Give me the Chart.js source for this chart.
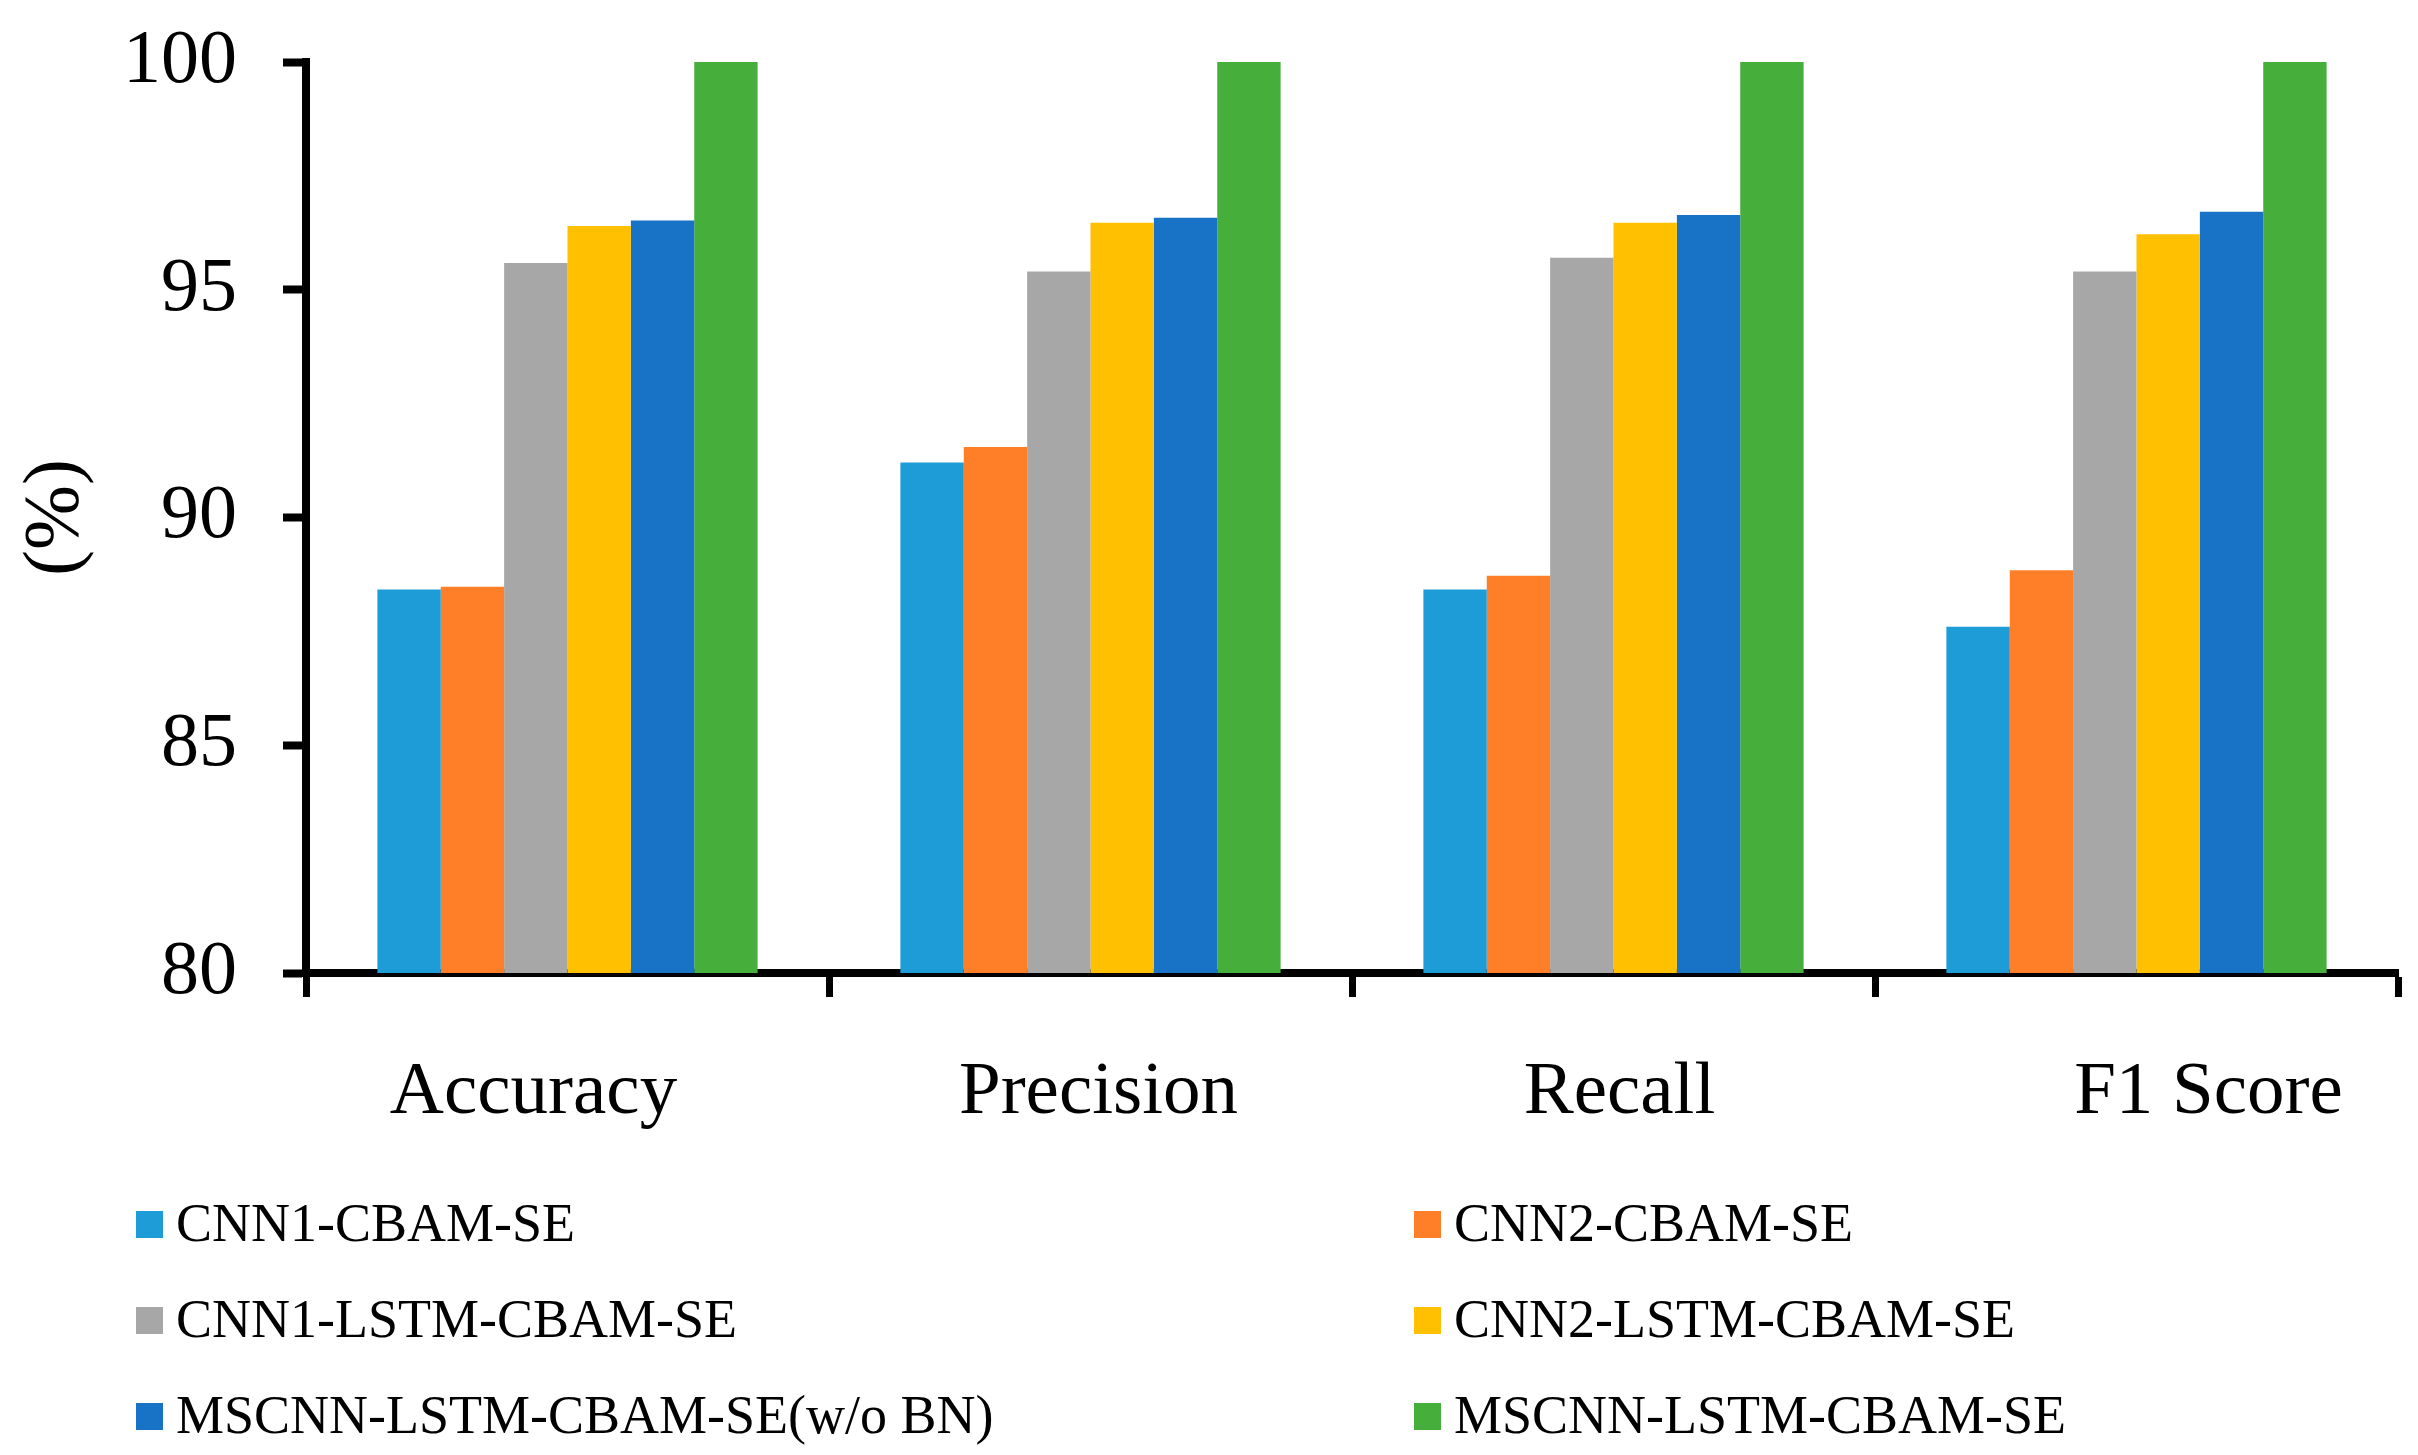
<!DOCTYPE html>
<html>
<head>
<meta charset="utf-8">
<script src="https://cdn.jsdelivr.net/npm/chart.js@4"></script>
<style>
  body { margin: 0; background: #fff; }
  #wrap { width: 2418px; height: 1455px; }
</style>
</head>
<body>
<div id="wrap"><canvas id="bars" width="2418" height="1455"></canvas></div>
<script>
// metrics on the x axis
var categories = ['Accuracy', 'Precision', 'Recall', 'F1 Score'];

// one array per model, values in %
var cnn1Cbam = [88.42, 91.21, 88.42, 87.60];
var cnn2Cbam = [88.48, 91.55, 88.72, 88.84];
var cnn1Lstm = [95.59, 95.40, 95.70, 95.40];
var cnn2Lstm = [96.40, 96.47, 96.47, 96.22];
var mscnnNoBn = [96.52, 96.58, 96.64, 96.71];
var mscnn = [100, 100, 100, 100];

var seriesNames = ['CNN1-CBAM-SE', 'CNN2-CBAM-SE', 'CNN1-LSTM-CBAM-SE',
                   'CNN2-LSTM-CBAM-SE', 'MSCNN-LSTM-CBAM-SE(w/o BN)', 'MSCNN-LSTM-CBAM-SE'];
var seriesValues = [cnn1Cbam, cnn2Cbam, cnn1Lstm, cnn2Lstm, mscnnNoBn, mscnn];
var colors = ['#1E9CD8', '#FE7F28', '#A7A7A7', '#FEC000', '#1873C7', '#46AF3C'];

var yTicks = [80, 85, 90, 95, 100];

var FONT = "'Liberation Serif', 'Times New Roman', serif";

// the category names in the original sit a bit off centre
var labelShift = [-34, 8, 6, 72];

var categoryText = {
    id: 'categoryText',
    afterDraw: function (chart) {
        var ctx = chart.ctx;
        var xs = chart.scales.x;
        ctx.save();
        ctx.font = '75px ' + FONT;
        ctx.fillStyle = '#000';
        ctx.textAlign = 'center';
        ctx.textBaseline = 'alphabetic';
        categories.forEach(function (c, i) {
            ctx.fillText(c, xs.getPixelForValue(i) + labelShift[i], chart.chartArea.bottom + 140);
        });
        ctx.restore();
    }
};

// legend in two columns, three rows, under the axis
var legendGrid = {
    id: 'legendGrid',
    afterDraw: function (chart) {
        var ctx = chart.ctx;
        var colX = [136, 1414];
        var rowBase = [1241, 1337, 1433];
        ctx.save();
        ctx.font = '54px ' + FONT;
        ctx.textBaseline = 'alphabetic';
        ctx.textAlign = 'left';
        chart.data.datasets.forEach(function (ds, i) {
            var x = colX[i % 2];
            var y = rowBase[Math.floor(i / 2)];
            ctx.fillStyle = ds.backgroundColor;
            ctx.fillRect(x, y - 30, 27, 27);
            ctx.fillStyle = '#000';
            ctx.fillText(ds.label, x + 40, y);
        });
        ctx.restore();
    }
};

var ctx = document.getElementById('bars').getContext('2d');
var myChart = new Chart(ctx, {
    type: 'bar',
    data: {
        labels: categories,
        datasets: seriesNames.map(function (name, i) {
            return {
                label: name,
                data: seriesValues[i],
                backgroundColor: colors[i],
                borderWidth: 0,
                categoryPercentage: 0.727,
                barPercentage: 1.0
            };
        })
    },
    options: {
        responsive: false,
        animation: false,
        devicePixelRatio: 1,
        layout: { padding: { top: 62, right: 20, bottom: 0, left: 0 } },
        plugins: {
            legend: { display: false },
            tooltip: { enabled: false }
        },
        scales: {
            x: {
                grid: {
                    display: true,
                    drawOnChartArea: false,
                    drawTicks: true,
                    tickLength: 24,
                    tickWidth: 7,
                    tickColor: '#000',
                    offset: true
                },
                border: { color: '#000', width: 8 },
                ticks: {
                    color: 'rgba(0,0,0,0)',
                    padding: 50,
                    font: { family: FONT, size: 75 }
                },
                afterFit: function (scale) { scale.height = 482; }
            },
            y: {
                min: 80,
                max: 100,
                afterBuildTicks: function (scale) {
                    scale.ticks = yTicks.map(function (v) { return { value: v }; });
                },
                grid: {
                    display: true,
                    drawOnChartArea: false,
                    drawTicks: true,
                    tickLength: 23,
                    tickWidth: 8,
                    tickColor: '#000'
                },
                border: { color: '#000', width: 8 },
                ticks: {
                    color: '#000',
                    padding: 46,
                    font: { family: FONT, size: 76 }
                },
                title: {
                    display: true,
                    text: '(%)',
                    color: '#000',
                    padding: { top: 10, bottom: 0 },
                    font: { family: FONT, size: 78 }
                },
                afterFit: function (scale) {
                    scale.width = 306;
                    scale.paddingTop = 0;
                    scale.paddingBottom = 0;
                }
            }
        }
    },
    plugins: [categoryText, legendGrid]
});
</script>
</body>
</html>
